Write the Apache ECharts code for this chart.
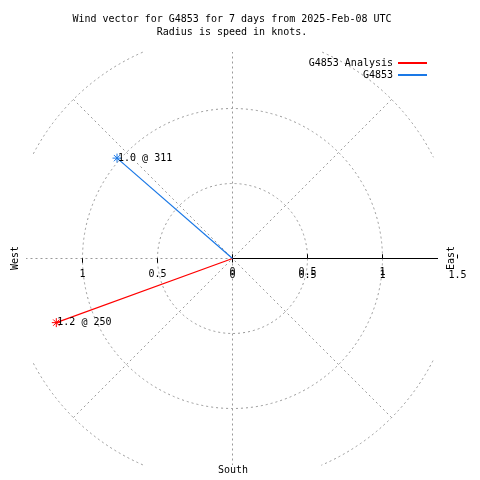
<!DOCTYPE html>
<html><head><meta charset="utf-8">
<script src="https://cdn.jsdelivr.net/npm/echarts@6/dist/echarts.min.js"></script>
<style>html,body{margin:0;padding:0;background:#fff}#c{width:480px;height:480px}</style>
</head><body><div id="c"></div>
<script>
// ---- data ----
const seriesNames = ['G4853 Analysis', 'G4853'];
const speeds = [1.25, 1.02];          // knots (radius)
const directions = [250, 311];        // compass bearing, degrees
const pointLabels = ['1.2 @ 250', '1.0 @ 311'];
const radiusMax = 1.5;
const radiusStep = 0.5;
const titleLines = ['Wind vector for G4853 for 7 days from 2025-Feb-08 UTC', 'Radius is speed in knots.'];
const compassNames = ['West', 'East', 'South'];

// ---- layout / style ----
const CX = 232.5, CY = 258.5, R = 225;
const CLIP = {left: 33, right: 433, top: 52, bottom: 465};
const GRID = '#999999';
const DASH = [2, 3];
const FONT = '"DejaVu Sans Mono", monospace';
const seriesColors = ['#ff0000', '#1a78e6'];
const STAR = 'path://M5,0L5,10M0,5L10,5M1.5,1.5L8.5,8.5M1.5,8.5L8.5,1.5';

function visibleArcs(r) {
  const arcs = []; let start = null;
  for (let i = 0; i <= 1440; i++) {
    const a = i / 4 * Math.PI / 180;
    const x = CX + r * Math.cos(a), y = CY + r * Math.sin(a);
    const inside = x >= CLIP.left && x <= CLIP.right && y >= CLIP.top && y <= CLIP.bottom;
    if (inside && start === null) start = a;
    if ((!inside || i === 1440) && start !== null) { arcs.push([start, a]); start = null; }
  }
  return arcs;
}

const graphics = [];
visibleArcs(R).forEach(([s, e]) => graphics.push({
  type: 'arc', silent: true, z: 0,
  shape: {cx: CX, cy: CY, r: R, startAngle: s, endAngle: e, clockwise: true},
  style: {stroke: GRID, lineWidth: 1, fill: 'none', lineDash: DASH}
}));
function gline(x1, y1, x2, y2, stroke, dash) {
  graphics.push({type: 'line', silent: true, z: 0,
    shape: {x1, y1, x2, y2},
    style: {stroke, lineWidth: 1, lineDash: dash || null}});
}
gline(CX, CY, CX, CLIP.top, GRID, DASH);
gline(CX, CY, CX, CLIP.bottom, GRID, DASH);
gline(CX, CY, 26, CY, GRID, DASH);
gline(CX, CY, 438, CY, '#000', null);
function gtext(text, x, y, rot, align, vAlign, lh) {
  graphics.push({type: 'text', silent: true, z: 5, x, y, rotation: rot || 0,
    style: {text, fill: '#000', font: '10px ' + FONT, align: align || 'center',
      verticalAlign: vAlign || 'middle', lineHeight: lh || 12}});
}
gtext(titleLines.join('\n'), 232, 13, 0, 'center', 'top', 13);
gtext(compassNames[0], 15, 258, Math.PI / 2);
gtext(compassNames[1], 451, 258, Math.PI / 2);
gtext(compassNames[2], 233, 470);

const hiddenAngle = (polarIndex, startAngle) => ({
  polarIndex, type: 'value', min: 90, max: 450, interval: 45, startAngle, clockwise: true,
  axisLine: {show: false}, axisTick: {show: false}, axisLabel: {show: false}, splitLine: {show: false}
});
const labelStyle = {color: '#000', fontSize: 10, fontFamily: FONT};

const option = {
  animation: false,
  backgroundColor: '#fff',
  color: seriesColors,
  polar: [
    {center: [CX, CY], radius: R},
    {center: [CX, CY], radius: R * 1 / radiusMax},
    {center: [CX, CY], radius: R * 1 / radiusMax},
    {center: [CX, CY], radius: R * 1 / radiusMax}
  ],
  angleAxis: [
    Object.assign(hiddenAngle(0, 0), {
      splitLine: {show: true, lineStyle: {color: ['rgba(0,0,0,0)', GRID], width: 1, type: DASH}}
    }),
    hiddenAngle(1, 0),
    hiddenAngle(2, 180),
    hiddenAngle(3, 180)
  ],
  radiusAxis: [
    {polarIndex: 0, type: 'value', min: 0, max: radiusMax, interval: radiusStep,
      axisLine: {show: false},
      axisTick: {show: true, length: 4, lineStyle: {color: '#000', width: 1}},
      axisLabel: Object.assign({margin: -22}, labelStyle),
      splitLine: {show: true, lineStyle: {color: [GRID, GRID, GRID, 'rgba(0,0,0,0)'], width: 1, type: DASH}}},
    {polarIndex: 1, type: 'value', min: 0, max: 1, interval: radiusStep,
      axisLine: {show: false},
      axisTick: {show: true, inside: true, length: 4, lineStyle: {color: '#000', width: 1}},
      axisLabel: Object.assign({margin: -19}, labelStyle),
      splitLine: {show: false}},
    {polarIndex: 2, type: 'value', min: 0, max: 1, interval: radiusStep,
      axisLine: {show: false},
      axisTick: {show: true, length: 4, lineStyle: {color: '#000', width: 1}},
      axisLabel: Object.assign({margin: 11, showMinLabel: false}, labelStyle),
      splitLine: {show: false}},
    {polarIndex: 3, type: 'value', min: 0, max: 1, interval: radiusStep,
      axisLine: {show: false},
      axisTick: {show: true, inside: true, length: 4, lineStyle: {color: '#000', width: 1}},
      axisLabel: {show: false},
      splitLine: {show: false}}
  ],
  legend: {
    orient: 'vertical', right: 53, top: 57, padding: 0, align: 'right',
    itemWidth: 29, itemHeight: 2, itemGap: 0, icon: 'rect',
    itemStyle: {borderWidth: 0},
    textStyle: {color: '#000', fontSize: 10, fontFamily: FONT, lineHeight: 12},
    data: seriesNames
  },
  graphic: {elements: graphics},
  series: seriesNames.map((name, i) => ({
    name, type: 'line', coordinateSystem: 'polar', polarIndex: 0, z: 3,
    color: seriesColors[i],
    lineStyle: {color: seriesColors[i], width: 1.2},
    itemStyle: {color: seriesColors[i], borderColor: seriesColors[i], borderWidth: 1},
    symbol: STAR, symbolSize: 9, showSymbol: true,
    emphasis: {disabled: true},
    data: [
      {value: [0, directions[i]], symbol: 'none'},
      {value: [speeds[i], directions[i]],
        label: {show: true, position: 'right', distance: -4, formatter: pointLabels[i],
          color: '#000', fontSize: 10, fontFamily: FONT}}
    ]
  }))
};
echarts.init(document.getElementById('c')).setOption(option);
</script></body></html>
